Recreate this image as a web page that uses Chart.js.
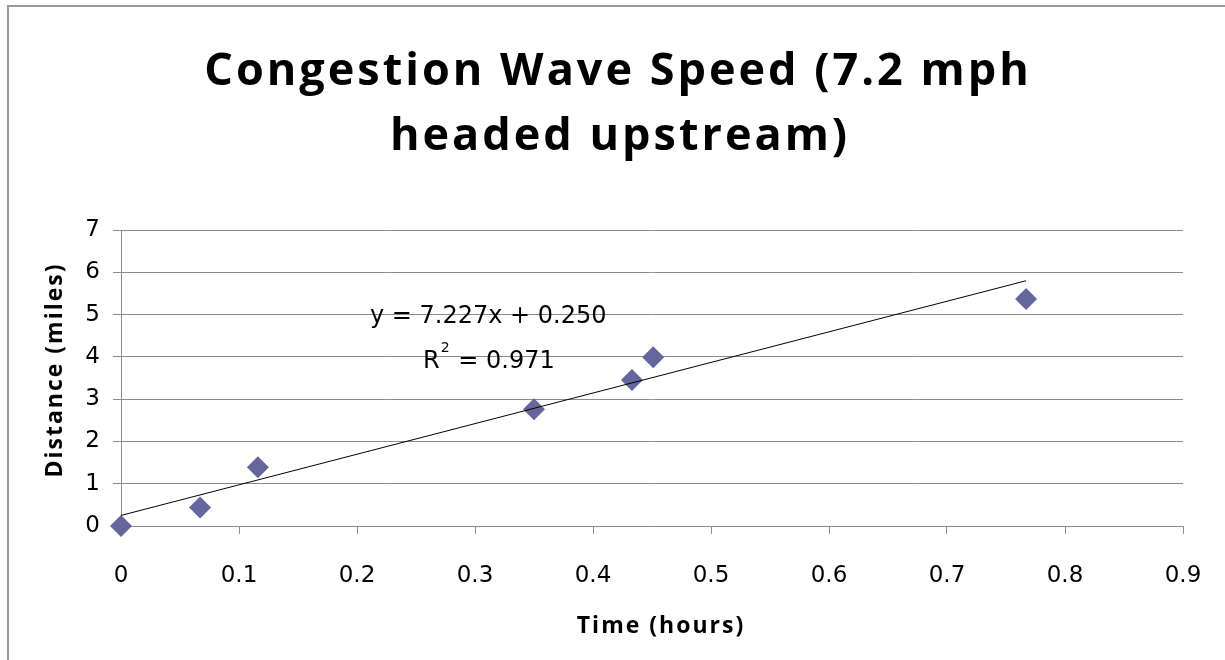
<!DOCTYPE html>
<html>
<head>
<meta charset="utf-8">
<title>Congestion Wave Speed</title>
<script src="https://cdn.jsdelivr.net/npm/chart.js@4.4.1/dist/chart.umd.min.js"></script>
<style>
  html, body { margin: 0; padding: 0; background: #fff; }
  #wrap { position: relative; width: 1225px; height: 660px; }
</style>
</head>
<body>
<div id="wrap"><canvas id="waveChart"></canvas></div>
<script>
// Observed points (time in hours, distance in miles)
const timeHours = [0, 0.067, 0.116, 0.350, 0.433, 0.451, 0.767];
const distanceMiles = [0, 0.44, 1.39, 2.76, 3.45, 3.99, 5.37];

// Linear trendline ends, as drawn in the picture
const trendTime = [0, 0.767];
const trendDistance = [0.25, 5.80];

// Axis ticks
const xTicks = [0, 0.1, 0.2, 0.3, 0.4, 0.5, 0.6, 0.7, 0.8, 0.9];
const yTicks = [0, 1, 2, 3, 4, 5, 6, 7];

// Texts
const titleLines = ['Congestion Wave Speed (7.2 mph', 'headed upstream)'];
const xTitle = 'Time (hours)';
const yTitle = 'Distance (miles)';
const equationText = 'y = 7.227x + 0.250';
const rSquaredText = '= 0.971';

const gridGray = '#8c8c8c';

// Frame, title, axis titles and trendline label
const decorPlugin = {
    id: 'decor',
    beforeDraw(chart) {
        const ctx = chart.ctx;
        ctx.save();
        ctx.strokeStyle = '#9a9a9a';
        ctx.lineWidth = 2;
        ctx.strokeRect(8, 6, 1400, 800);
        ctx.restore();
    },
    afterDraw(chart) {
        const ctx = chart.ctx;
        const area = chart.chartArea;
        const xs = chart.scales.x;
        const ys = chart.scales.y;
        ctx.save();
        ctx.fillStyle = '#000';

        // Chart title
        ctx.font = 'bold 45px "Open Sans"';
        ctx.letterSpacing = '3px';
        ctx.textAlign = 'center';
        ctx.textBaseline = 'alphabetic';
        ctx.fillText(titleLines[0], 618, 85);
        ctx.fillText(titleLines[1], 620, 150);

        // Axis titles
        ctx.font = 'bold 23px "Open Sans"';
        ctx.letterSpacing = '2px';
        ctx.fillText(xTitle, (area.left + area.right) / 2 + 9, 633);
        ctx.save();
        ctx.translate(62, (area.top + area.bottom) / 2 - 8);
        ctx.rotate(-Math.PI / 2);
        ctx.fillText(yTitle, 0, 0);
        ctx.restore();

        // Trendline equation
        ctx.letterSpacing = '0px';
        ctx.textAlign = 'left';
        ctx.textBaseline = 'middle';
        ctx.font = '24px "DejaVu Sans"';
        ctx.fillText(equationText, xs.getPixelForValue(0.211), ys.getPixelForValue(4.95));
        const rx = xs.getPixelForValue(0.256);
        const ry = ys.getPixelForValue(3.88);
        ctx.fillText('R', rx, ry);
        const rw = ctx.measureText('R').width;
        ctx.font = '14px "DejaVu Sans"';
        ctx.fillText('2', rx + rw + 1, ry - 14);
        const sw = ctx.measureText('2').width;
        ctx.font = '24px "DejaVu Sans"';
        ctx.fillText(' ' + rSquaredText, rx + rw + sw + 2, ry);
        ctx.restore();
    }
};

const ctx = document.getElementById('waveChart').getContext('2d');

new Chart(ctx, {
    type: 'scatter',
    data: {
        datasets: [
            {
                label: 'Distance',
                data: timeHours.map((t, i) => ({ x: t, y: distanceMiles[i] })),
                pointStyle: 'rectRot',
                pointRadius: 11,
                pointHoverRadius: 11,
                backgroundColor: '#66669e',
                borderColor: '#66669e',
                borderWidth: 0,
                clip: false,
                order: 1
            },
            {
                label: 'Linear trend',
                type: 'line',
                data: trendTime.map((t, i) => ({ x: t, y: trendDistance[i] })),
                borderColor: '#000',
                borderWidth: 1,
                pointRadius: 0,
                fill: false,
                order: 0
            }
        ]
    },
    options: {
        responsive: true,
        maintainAspectRatio: false,
        animation: false,
        layout: {
            padding: { top: 230, right: 42, bottom: 0, left: 0 }
        },
        plugins: {
            legend: { display: false },
            title: { display: false },
            tooltip: { enabled: false }
        },
        scales: {
            x: {
                type: 'linear',
                min: 0,
                max: 0.9,
                afterBuildTicks: scale => { scale.ticks = xTicks.map(v => ({ value: v })); },
                afterFit: scale => {
                    scale.height = 134;
                    scale.paddingLeft = 0;
                    scale.paddingRight = 0;
                },
                ticks: {
                    color: '#000',
                    padding: 28,
                    maxRotation: 0,
                    font: { family: 'DejaVu Sans', size: 23 }
                },
                grid: {
                    drawOnChartArea: false,
                    drawTicks: true,
                    tickLength: 8,
                    color: gridGray
                },
                border: { display: true, color: gridGray }
            },
            y: {
                type: 'linear',
                min: 0,
                max: 7,
                afterBuildTicks: scale => { scale.ticks = yTicks.map(v => ({ value: v })); },
                afterFit: scale => { scale.width = 121; },
                ticks: {
                    color: '#000',
                    padding: 13,
                    font: { family: 'DejaVu Sans', size: 23 }
                },
                grid: {
                    drawTicks: true,
                    tickLength: 8,
                    color: gridGray
                },
                border: { display: true, color: gridGray }
            }
        }
    },
    plugins: [decorPlugin]
});
</script>
</body>
</html>
